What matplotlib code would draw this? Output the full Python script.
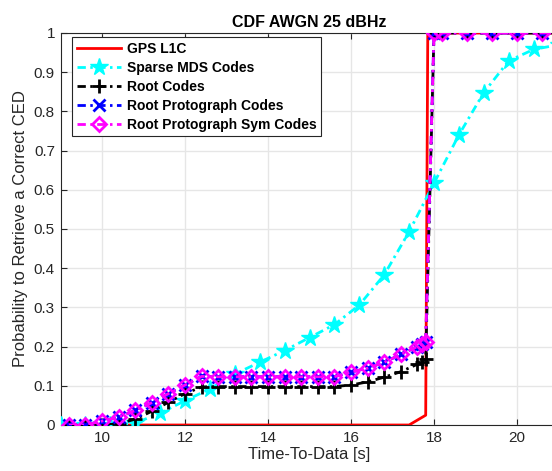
import matplotlib
matplotlib.use("Agg")
import matplotlib.pyplot as plt

plt.rcParams['font.family'] = ['Liberation Sans', 'DejaVu Sans']

title = "CDF AWGN 25 dBHz"
xlabel = "Time-To-Data [s]"
ylabel = "Probability to Retrieve a Correct CED"
labels = ["GPS L1C", "Sparse MDS Codes", "Root Codes", "Root Protograph Codes", "Root Protograph Sym Codes"]

gps_x = [9.0, 17.4, 17.8, 17.85, 21.2]
gps_y = [0.0, 0.0, 0.025, 1.0, 1.0]

mds_x = [9.0, 9.6, 10.2, 10.8, 11.4, 12.0, 12.6, 13.2, 13.8, 14.4, 15.0, 15.6, 16.2, 16.8,
         17.4, 18.0, 18.6, 19.2, 19.8, 20.4, 21.0]
mds_y = [0.0, 0.0, 0.0, 0.005, 0.03, 0.062, 0.092, 0.13, 0.16, 0.19, 0.223, 0.256, 0.306, 0.383,
         0.493, 0.617, 0.74, 0.848, 0.929, 0.958, 0.97]

root_x = [9.2, 9.6, 10.0, 10.4, 10.8, 11.2, 11.6, 12.0, 12.4, 12.8, 13.2, 13.6, 14.0, 14.4, 14.8,
          15.2, 15.6, 16.0, 16.4, 16.8, 17.2, 17.6, 17.7, 17.8, 18.0, 18.2, 18.8, 19.4, 20.0, 20.6, 21.2]
root_y = [0.0, 0.0, 0.0, 0.003, 0.015, 0.035, 0.058, 0.08, 0.097, 0.098, 0.098, 0.098, 0.098, 0.098, 0.098,
          0.098, 0.098, 0.102, 0.11, 0.122, 0.136, 0.155, 0.161, 0.168, 1.0, 1.0, 1.0, 1.0, 1.0, 1.0, 1.0]

proto_x = root_x
proto_y = [0.0, 0.0, 0.01, 0.02, 0.037, 0.057, 0.08, 0.102, 0.124, 0.123, 0.123, 0.123, 0.123, 0.123, 0.123,
           0.123, 0.123, 0.135, 0.145, 0.16, 0.18, 0.2, 0.206, 0.212, 1.0, 1.0, 1.0, 1.0, 1.0, 1.0, 1.0]

sym_x = root_x
sym_y = [0.0, 0.0, 0.01, 0.02, 0.037, 0.057, 0.08, 0.102, 0.124, 0.123, 0.123, 0.123, 0.123, 0.123, 0.123,
         0.123, 0.123, 0.135, 0.145, 0.16, 0.18, 0.2, 0.206, 0.212, 1.0, 1.0, 1.0, 1.0, 1.0, 1.0, 1.0]

xticks = [10, 12, 14, 16, 18, 20]
yticks = [0, 0.1, 0.2, 0.3, 0.4, 0.5, 0.6, 0.7, 0.8, 0.9, 1]
yticklabels = ["0", "0.1", "0.2", "0.3", "0.4", "0.5", "0.6", "0.7", "0.8", "0.9", "1"]

fig = plt.figure(figsize=(5.52, 4.71), dpi=100)
ax = fig.add_axes([60.5/552, 46/471, 498/552, 392/471])

dd = (3.0, 1.6, 0.9, 1.6)

ax.plot(gps_x, gps_y, color='#ff0000', lw=2, label=labels[0], zorder=3)
ax.plot(mds_x, mds_y, color='#00ffff', lw=2, ls=(0, dd), marker='*', ms=13,
        mfc='#00ffff', mec='#00ffff', label=labels[1], zorder=4)
ax.plot(root_x, root_y, color='black', lw=2, ls=(0, dd), marker='+', ms=10, mew=2,
        label=labels[2], zorder=5)
ax.plot(proto_x, proto_y, color='#0000ff', lw=2, ls=(0, dd), marker='x', ms=9, mew=2,
        label=labels[3], zorder=6)
ax.plot(sym_x, sym_y, color='#ff00ff', lw=2, ls=(0, dd), marker='D', ms=7.5, mew=2,
        mfc='none', mec='#ff00ff', label=labels[4], zorder=7)

ax.set_xlim(9, 21)
ax.set_ylim(0, 1)
ax.set_xticks(xticks)
ax.set_yticks(yticks)
ax.set_yticklabels(yticklabels)
ax.grid(True, color='#e6e6e6', lw=1)
ax.set_axisbelow(True)
for s in ax.spines.values():
    s.set_color('#262626')
    s.set_linewidth(0.8)
ax.tick_params(direction='in', colors='#262626', labelsize=11, top=True, right=True,
               length=4, width=0.8, pad=4)
for lab in ax.get_xticklabels() + ax.get_yticklabels():
    lab.set_color('#262626')

ax.set_title(title, fontsize=11.5, fontweight='bold', pad=4)
ax.set_xlabel(xlabel, fontsize=12, color='#262626', labelpad=2)
ax.set_ylabel(ylabel, fontsize=12, color='#262626', labelpad=4)

leg = ax.legend(loc='upper left', bbox_to_anchor=(0.0225, 0.989), borderaxespad=0,
                fancybox=False, framealpha=1, edgecolor='#262626',
                prop={'weight': 'bold', 'size': 10}, handlelength=3.2,
                handletextpad=0.4, labelspacing=0.35, borderpad=0.35)
leg.get_frame().set_linewidth(0.8)

fig.savefig("out.png", dpi=100)
